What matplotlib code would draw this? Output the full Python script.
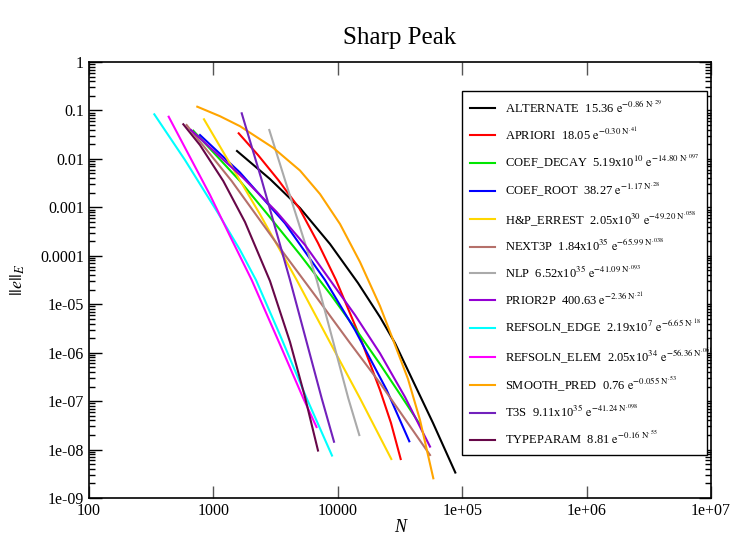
import matplotlib
matplotlib.use("Agg")
import matplotlib.pyplot as plt

plt.rcParams['font.family'] = ['Liberation Serif', 'DejaVu Serif']
plt.rcParams['mathtext.fontset'] = 'stix'

# ---- data (N, |e|_E) ----
alternate_N = [1548, 2851, 4967, 8655, 14535, 21840, 28830, 40230, 58270, 88040]
alternate_E = [1.454e-2, 3.84e-3, 9.68e-4, 1.75e-4, 2.74e-5, 5.44e-6, 1.58e-6, 2.60e-7, 3.53e-8, 3.35e-9]

apriori_N = [1597, 2283, 3324, 4903, 6931, 9672, 15084, 21840, 26770, 32030]
apriori_E = [3.373e-2, 1.202e-2, 3.664e-3, 9.54e-4, 1.834e-4, 3.16e-5, 2.10e-6, 1.69e-7, 3.53e-8, 6.37e-9]

coef_decay_N = [689, 1636, 2683, 4967, 8933, 15084, 21840, 32630, 45800]
coef_decay_E = [3.82e-2, 3.49e-3, 7.52e-4, 1.06e-4, 1.48e-5, 2.28e-6, 5.80e-7, 1.23e-7, 3.28e-8]

coef_root_N = [780, 1636, 3763, 7888, 13750, 24730, 37570]
coef_root_E = [3.11e-2, 5.23e-3, 4.68e-4, 3.16e-5, 2.93e-6, 1.69e-7, 1.48e-8]

hp_errest_N = [840, 1359, 2369, 4673, 8655, 15084, 26920]
hp_errest_E = [6.57e-2, 8.03e-3, 7.18e-4, 3.16e-5, 1.63e-6, 1.14e-7, 6.37e-9]

next3p_N = [609, 1403, 2160, 3763, 6767, 12535, 21840, 55110]
next3p_E = [5.0e-2, 3.49e-3, 7.52e-4, 1.04e-4, 1.37e-5, 1.58e-6, 2.36e-7, 7.71e-9]

nlp_N = [2814, 3763, 6767, 12145, 14890]
nlp_E = [3.95e-2, 3.66e-3, 3.16e-5, 1.14e-7, 1.99e-8]

prior2p_N = [660, 1739, 3228, 5449, 8655, 13750, 21840, 34700, 55110]
prior2p_E = [3.95e-2, 4.03e-3, 8.01e-4, 1.67e-4, 3.16e-5, 5.98e-6, 9.69e-7, 1.21e-7, 1.15e-8]

refsoln_edge_N = [335, 591, 1089, 1636, 2200, 3431, 5623, 8981]
refsoln_edge_E = [8.32e-2, 9.48e-3, 7.63e-4, 1.32e-4, 3.16e-5, 2.31e-6, 1.14e-7, 7.52e-9]

refsoln_elem_N = [437, 648, 939, 1359, 2032, 3431, 5281, 6743]
refsoln_elem_E = [7.42e-2, 1.09e-2, 1.80e-3, 2.56e-4, 3.16e-5, 1.47e-6, 1.14e-7, 2.92e-8]

smooth_pred_N = [742, 1130, 1636, 3030, 4967, 7193, 10416, 15084, 21840, 27270, 36670, 45800, 58590]
smooth_pred_E = [1.195e-1, 7.60e-2, 4.73e-2, 1.69e-2, 5.75e-3, 1.88e-3, 4.53e-4, 7.43e-5,
                 9.18e-6, 2.10e-6, 2.86e-7, 4.07e-8, 2.55e-9]

t3s_N = [1689, 2445, 4129, 7424, 9322]
t3s_E = [8.73e-2, 3.66e-3, 3.16e-5, 1.14e-7, 1.45e-8]

typeparam_N = [573, 780, 1201, 1795, 2851, 4129, 5449, 6931]
typeparam_E = [5.18e-2, 1.93e-2, 3.49e-3, 4.97e-4, 3.01e-5, 1.66e-6, 1.21e-7, 9.54e-9]

labels = [
    r"ALTERNATE  15.36 $\mathrm{e}^{-0.86\ \mathrm{N}^{.29}}$",
    r"APRIORI  18.05 $\mathrm{e}^{-0.30\ \mathrm{N}^{.41}}$",
    r"COEF_DECAY  5.19x10$^{10}$ $\mathrm{e}^{-14.80\ \mathrm{N}^{.097}}$",
    r"COEF_ROOT  38.27 $\mathrm{e}^{-1.17\ \mathrm{N}^{.28}}$",
    r"H&P_ERREST  2.05x10$^{30}$ $\mathrm{e}^{-49.20\ \mathrm{N}^{.058}}$",
    r"NEXT3P  1.84x10$^{35}$ $\mathrm{e}^{-65.99\ \mathrm{N}^{.038}}$",
    r"NLP  6.52x10$^{35}$ $\mathrm{e}^{-41.09\ \mathrm{N}^{.093}}$",
    r"PRIOR2P  400.63 $\mathrm{e}^{-2.36\ \mathrm{N}^{.21}}$",
    r"REFSOLN_EDGE  2.19x10$^{7}$ $\mathrm{e}^{-6.65\ \mathrm{N}^{.18}}$",
    r"REFSOLN_ELEM  2.05x10$^{34}$ $\mathrm{e}^{-56.36\ \mathrm{N}^{.061}}$",
    r"SMOOTH_PRED  0.76 $\mathrm{e}^{-0.055\ \mathrm{N}^{.53}}$",
    r"T3S  9.11x10$^{35}$ $\mathrm{e}^{-41.24\ \mathrm{N}^{.098}}$",
    r"TYPEPARAM  8.81 $\mathrm{e}^{-0.16\ \mathrm{N}^{.55}}$",
]
colors = ['#000000', '#ff0000', '#00e600', '#0000ff', '#ffd700', '#b5706a',
          '#aaaaaa', '#9400d3', '#00ffff', '#ff00ff', '#ffa500', '#7221bc', '#670748']

series = [
    (alternate_N, alternate_E), (apriori_N, apriori_E), (coef_decay_N, coef_decay_E),
    (coef_root_N, coef_root_E), (hp_errest_N, hp_errest_E), (next3p_N, next3p_E),
    (nlp_N, nlp_E), (prior2p_N, prior2p_E), (refsoln_edge_N, refsoln_edge_E),
    (refsoln_elem_N, refsoln_elem_E), (smooth_pred_N, smooth_pred_E),
    (t3s_N, t3s_E), (typeparam_N, typeparam_E),
]

xticks = [1e2, 1e3, 1e4, 1e5, 1e6, 1e7]
xticklabels = ["100", "1000", "10000", "1e+05", "1e+06", "1e+07"]
yticks = [1e-9, 1e-8, 1e-7, 1e-6, 1e-5, 1e-4, 1e-3, 1e-2, 1e-1, 1]
yticklabels = ["1e-09", "1e-08", "1e-07", "1e-06", "1e-05", "0.0001", "0.001", "0.01", "0.1", "1"]

fig = plt.figure(figsize=(7.33, 5.44), dpi=100)
ax = fig.add_axes([89/733, 46/544, 622/733, 436/544])

handles = []
for (n, e), c, lab in zip(series, colors, labels):
    h, = ax.plot(n, e, color=c, lw=1.5, label=lab, solid_joinstyle='round')
    handles.append(h)

ax.set_xscale('log')
ax.set_yscale('log')
ax.set_xlim(1e2, 1e7)
ax.set_ylim(1e-9, 1)
ax.set_xticks(xticks)
ax.set_xticklabels(xticklabels)
ax.xaxis.set_minor_locator(matplotlib.ticker.NullLocator())
ax.set_yticks(yticks)
ax.set_yticklabels(yticklabels)
ax.yaxis.set_minor_locator(matplotlib.ticker.LogLocator(base=10, subs=range(2, 10), numticks=20))
ax.yaxis.set_minor_formatter(matplotlib.ticker.NullFormatter())
ax.tick_params(which='both', direction='in', top=True, right=True, labelsize=11.5, width=1)
ax.tick_params(which='major', length=9)
ax.tick_params(which='minor', length=4.5)
ax.tick_params(axis='x', which='major', color='#555555')
for s in ax.spines.values():
    s.set_linewidth(1.2)

leg = ax.legend(handles=handles, loc='upper left', bbox_to_anchor=(0.5997, 0.1048, 0.3939, 0.8287),
                mode='expand', borderaxespad=0, fontsize=9, handlelength=2.0, handletextpad=0.8,
                borderpad=0.65, labelspacing=0.8, fancybox=False, framealpha=1, edgecolor='black')
leg.get_frame().set_linewidth(1.0)

fig.text(400/733, 1 - 38/544, "Sharp Peak", ha='center', va='center', fontsize=18)
fig.text(400/733, 1 - 527/544, "N", ha='center', va='center', fontsize=13, style='italic')
fig.text(18/733, 1 - 280/544, r"$||e||_E$", ha='center', va='center', rotation=90, fontsize=13)

fig.savefig("out.png", dpi=100)
